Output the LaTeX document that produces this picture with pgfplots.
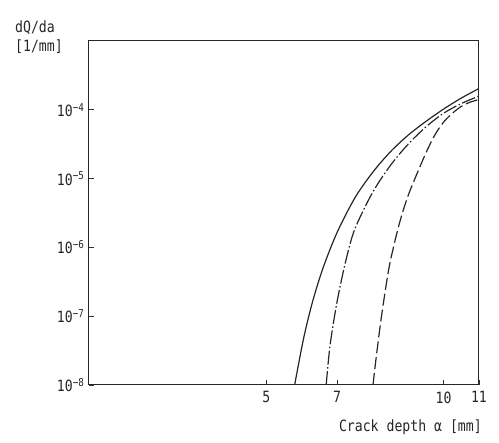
\documentclass[border=0pt]{standalone}
\usepackage{fontspec}
\setmainfont{DejaVu Sans Mono}[FakeStretch=0.85]
\usepackage{pgfplots}
\pgfplotsset{compat=1.18}
\begin{document}
\begin{tikzpicture}
\path[use as bounding box] (-89pt,-58pt) rectangle (410pt,385pt);
\begin{axis}[
  at={(0pt,0pt)}, anchor=south west,
  width=390pt, height=344pt, scale only axis,
  xmin=0, xmax=11, ymode=log, ymin=1e-8, ymax=1e-3,
  xtick={5,7,10,11}, xticklabels={5,7,10,11},
  ytick={1e-8,1e-7,1e-6,1e-5,1e-4},
  yticklabels={10\textsuperscript{−8},10\textsuperscript{−7},10\textsuperscript{−6},10\textsuperscript{−5},10\textsuperscript{−4}},
  minor tick num=0, yminorticks=false,
  tick pos=left, tick align=inside, major tick length=5pt,
  axis line style={black!85, line width=1pt},
  every tick/.style={black!80, line width=0.7pt},
  tick label style={font=\fontsize{15.5}{16}\selectfont, text=black!85},
  xticklabel style={yshift=-3pt},
  yticklabel style={xshift=-1pt},
]
\addplot[black!85, line width=1.2pt, smooth] coordinates {
(5.80,1.0e-8) (6.05,4.68e-8) (6.30,1.585e-7) (6.60,5.01e-7) (7.00,1.66e-6) (7.50,5.25e-6) (8.00,1.23e-5) (8.50,2.45e-5) (9.00,4.27e-5) (9.50,6.76e-5) (10.00,1.023e-4) (10.50,1.48e-4) (11.00,2.04e-4)};
\addplot[black!85, line width=1.2pt, smooth, dash pattern=on 14pt off 2.5pt on 1.5pt off 2.5pt] coordinates {
(6.69,1.0e-8) (6.80,3.80e-8) (7.00,1.66e-7) (7.25,6.61e-7) (7.50,1.86e-6) (8.00,6.31e-6) (8.50,1.55e-5) (9.00,3.16e-5) (9.50,5.62e-5) (10.00,8.91e-5) (10.50,1.23e-4) (11.00,1.585e-4)};
\addplot[black!85, line width=1.2pt, smooth, dash pattern=on 12pt off 4pt] coordinates {
(8.01,1.0e-8) (8.10,2.51e-8) (8.25,1.0e-7) (8.45,4.68e-7) (8.60,1.07e-6) (8.75,2.19e-6) (8.90,3.98e-6) (9.05,6.61e-6) (9.25,1.175e-5) (9.50,2.34e-5) (9.75,4.27e-5) (10.00,6.61e-5) (10.25,8.91e-5) (10.50,1.12e-4) (10.75,1.29e-4) (11.00,1.41e-4)};
\end{axis}
\node[anchor=north west, align=left, text=black!85, font=\fontsize{15.5}{19}\selectfont, inner sep=0pt] at (-74pt,364pt) {dQ/da\\{[}1/mm{]}};
\node[anchor=north east, text=black!85, font=\fontsize{15.5}{16}\selectfont, inner sep=0pt] at (393pt,-35pt) {Crack depth α [mm]};
\end{tikzpicture}
\end{document}
